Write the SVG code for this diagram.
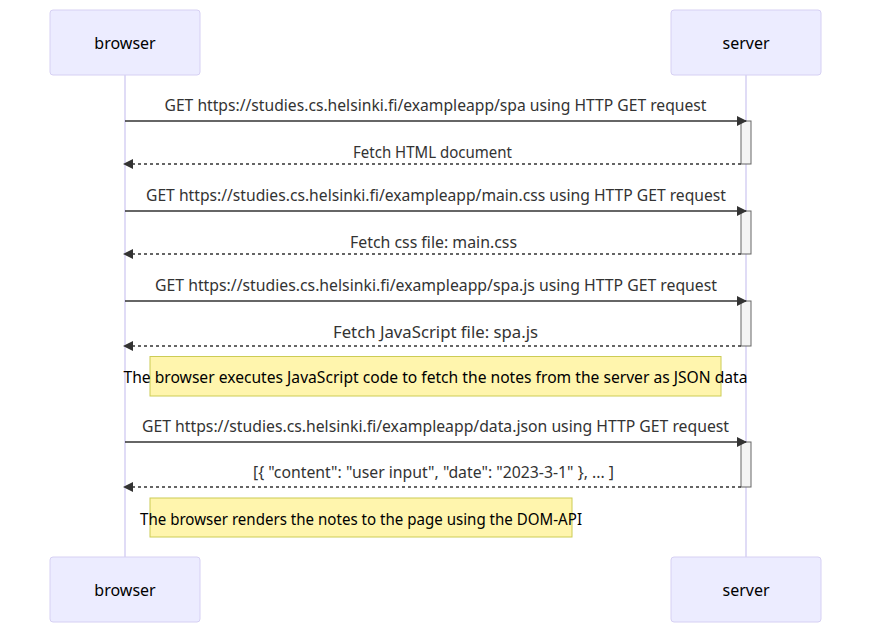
<svg xmlns="http://www.w3.org/2000/svg" width="871" height="633" viewBox="0 0 871 633">
<style>
.actor{fill:#ECECFF;stroke:#d6d0f3;stroke-width:1}
.actorText{font-family:"Noto Sans",sans-serif;font-size:16px;fill:#000;text-anchor:middle}
.life{stroke:#d6d0f3;stroke-width:1.5}
.msg{stroke:#333;stroke-width:1.5;fill:none}
.dash{stroke-dasharray:3,3}
.msgText{font-family:"Noto Sans",sans-serif;font-size:16px;fill:#333;text-anchor:middle}
.act{fill:#f4f4f4;stroke:#666;stroke-width:1}
.note{fill:#fff5ad;stroke:#cccc55;stroke-width:1}
.noteText{font-family:"Noto Sans",sans-serif;font-size:16px;fill:#000;text-anchor:middle}
</style>
<defs>
<marker id="arrow" markerUnits="userSpaceOnUse" viewBox="0 0 10 10" refX="9" refY="5" markerWidth="10" markerHeight="10" orient="auto">
<path d="M0,0 L10,5 L0,10 z" fill="#333"/>
</marker>
</defs>
<rect width="871" height="633" fill="#fff"/>
<g id="lifelines">
<line class="life" x1="125" y1="75" x2="125" y2="557"/>
<line class="life" x1="746" y1="75" x2="746" y2="557"/>
</g>
<g id="browser-top"><rect class="actor" x="50" y="10" width="150" height="65" rx="3"/><text class="actorText" x="125" y="49">browser</text></g>
<g id="server-top"><rect class="actor" x="671" y="10" width="150" height="65" rx="3"/><text class="actorText" x="746" y="49">server</text></g>
<g id="browser-bottom"><rect class="actor" x="50" y="557" width="150" height="65" rx="3"/><text class="actorText" x="125" y="596">browser</text></g>
<g id="server-bottom"><rect class="actor" x="671" y="557" width="150" height="65" rx="3"/><text class="actorText" x="746" y="596">server</text></g>
<g id="activations">
<rect class="act" x="741" y="121" width="10" height="43"/>
<rect class="act" x="741" y="211" width="10" height="43"/>
<rect class="act" x="741" y="301" width="10" height="45"/>
<rect class="act" x="741" y="442" width="10" height="45"/>
</g>
<g id="note1"><rect class="note" x="150" y="356.5" width="571" height="39.5"/><text class="noteText" x="435.5" y="383" textLength="624" lengthAdjust="spacingAndGlyphs">The browser executes JavaScript code to fetch the notes from the server as JSON data</text></g>
<g id="note2"><rect class="note" x="150" y="498" width="422" height="39"/><text class="noteText" x="361" y="524.5" textLength="442" lengthAdjust="spacingAndGlyphs">The browser renders the notes to the page using the DOM-API</text></g>
<g id="connectors">
<line class="msg" x1="125" y1="121" x2="746" y2="121" marker-end="url(#arrow)"/>
<line class="msg dash" x1="741" y1="164" x2="124" y2="164" marker-end="url(#arrow)"/>
<line class="msg" x1="125" y1="211" x2="746" y2="211" marker-end="url(#arrow)"/>
<line class="msg dash" x1="741" y1="254" x2="124" y2="254" marker-end="url(#arrow)"/>
<line class="msg" x1="125" y1="301" x2="746" y2="301" marker-end="url(#arrow)"/>
<line class="msg dash" x1="741" y1="346" x2="124" y2="346" marker-end="url(#arrow)"/>
<line class="msg" x1="125" y1="442" x2="746" y2="442" marker-end="url(#arrow)"/>
<line class="msg dash" x1="741" y1="487" x2="124" y2="487" marker-end="url(#arrow)"/>
<text class="msgText" x="435.5" y="110.5" textLength="542" lengthAdjust="spacingAndGlyphs">GET https://studies.cs.helsinki.fi/exampleapp/spa using HTTP GET request</text>
<text class="msgText" x="432.5" y="157.5" textLength="159" lengthAdjust="spacingAndGlyphs">Fetch HTML document</text>
<text class="msgText" x="436" y="200.5" textLength="580" lengthAdjust="spacingAndGlyphs">GET https://studies.cs.helsinki.fi/exampleapp/main.css using HTTP GET request</text>
<text class="msgText" x="433.5" y="247.5" textLength="167" lengthAdjust="spacingAndGlyphs">Fetch css file: main.css</text>
<text class="msgText" x="436" y="290.5" textLength="562" lengthAdjust="spacingAndGlyphs">GET https://studies.cs.helsinki.fi/exampleapp/spa.js using HTTP GET request</text>
<text class="msgText" x="435.5" y="337.5" textLength="205" lengthAdjust="spacingAndGlyphs">Fetch JavaScript file: spa.js</text>
<text class="msgText" x="435.5" y="431.5" textLength="587" lengthAdjust="spacingAndGlyphs">GET https://studies.cs.helsinki.fi/exampleapp/data.json using HTTP GET request</text>
<text class="msgText" x="433.5" y="477.5" textLength="361" lengthAdjust="spacingAndGlyphs">[{ "content": "user input", "date": "2023-3-1" }, ... ]</text>
</g>
</svg>
